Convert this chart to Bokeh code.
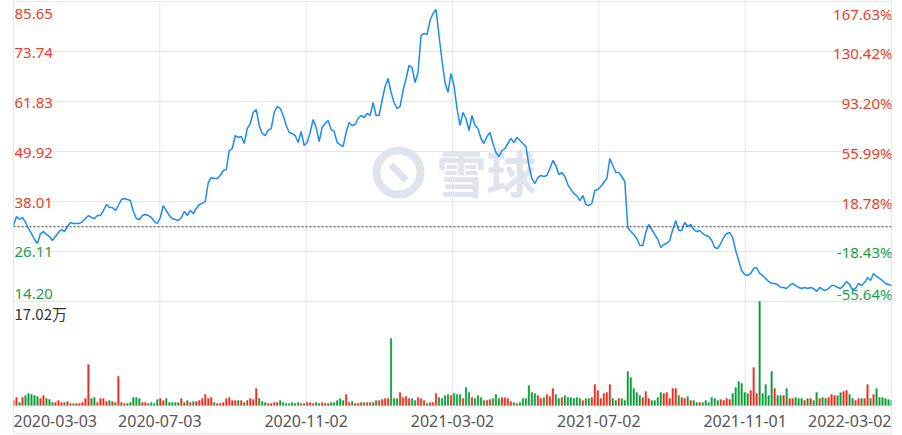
from bokeh.plotting import figure
from bokeh.models import Range1d, FixedTicker, ColumnDataSource, Span
from bokeh.core.properties import value
from bokeh.embed import file_html
from bokeh.resources import INLINE

# ---------------- data ----------------
price = [
    32.30, 34.44, 33.73, 34.21, 33.02, 31.59, 30.39, 28.97, 28.01, 30.39,
    30.87, 30.16, 29.68, 28.73, 29.68, 30.63, 31.35, 30.87, 32.06, 33.02,
    32.78, 32.78, 32.78, 33.25, 33.97, 34.68, 34.21, 33.97, 34.68, 34.68,
    35.87, 37.30, 36.59, 36.59, 35.87, 37.06, 38.49, 38.73, 38.49, 38.25,
    35.63, 33.97, 33.73, 34.68, 34.92, 34.68, 34.21, 33.25, 32.78, 34.21,
    37.06, 35.87, 34.68, 33.97, 33.73, 33.49, 34.21, 35.63, 34.68, 35.87,
    35.16, 36.35, 37.30, 37.54, 38.02, 42.54, 43.73, 43.49, 43.49, 44.21,
    45.40, 45.64, 50.16, 50.64, 53.73, 53.26, 53.50, 51.83, 55.40, 56.59,
    59.21, 59.93, 56.12, 54.21, 53.73, 54.93, 55.40, 59.21, 60.64, 60.17,
    58.50, 56.12, 54.45, 54.21, 53.73, 52.07, 54.69, 51.35, 52.07, 54.45,
    57.55, 55.64, 52.31, 55.64, 56.59, 57.31, 55.16, 54.69, 52.07, 51.59,
    51.12, 54.45, 56.83, 56.12, 56.36, 57.78, 58.50, 58.02, 58.98, 58.50,
    61.60, 58.50, 58.50, 62.07, 65.41, 67.31, 63.98, 61.60, 60.17, 60.64,
    64.45, 67.31, 70.41, 69.93, 66.36, 68.74, 77.55, 78.03, 77.79, 81.12,
    82.79, 83.74, 77.55, 71.60, 66.36, 63.98, 68.50, 65.64, 60.17, 56.12,
    59.21, 57.78, 54.93, 58.50, 56.12, 55.40, 53.02, 51.83, 53.50, 54.45,
    51.83, 49.69, 48.73, 50.16, 50.64, 51.83, 53.02, 52.07, 53.26, 52.54,
    51.83, 51.12, 46.59, 43.49, 42.30, 43.73, 44.21, 43.97, 44.21, 45.88,
    47.78, 46.59, 44.45, 44.92, 43.97, 42.06, 40.87, 39.92, 39.44, 38.25,
    39.44, 37.30, 37.06, 37.54, 40.64, 40.87, 41.59, 42.54, 43.49, 48.26,
    46.59, 44.92, 44.92, 43.97, 42.78, 31.82, 30.87, 30.16, 29.20, 27.54,
    27.54, 30.63, 32.54, 31.35, 30.16, 28.97, 27.06, 27.77, 28.01, 28.73,
    31.35, 33.49, 31.11, 31.11, 33.02, 32.06, 32.54, 31.35, 30.87, 31.11,
    30.39, 29.92, 29.68, 28.73, 27.06, 26.82, 28.01, 29.44, 30.39, 30.63,
    29.44, 26.35, 23.96, 21.58, 20.63, 20.39, 20.87, 22.06, 22.30, 20.87,
    20.39, 19.68, 18.96, 18.49, 18.49, 18.25, 17.54, 17.54, 17.30, 18.01,
    18.49, 18.01, 17.54, 17.30, 17.54, 17.30, 17.54, 17.30, 16.58, 17.54,
    17.06, 16.82, 17.30, 18.01, 18.01, 17.54, 17.30, 18.01, 18.96, 18.25,
    17.06, 17.30, 18.49, 18.01, 18.72, 19.91, 19.20, 20.87, 20.16, 19.68,
    19.20, 18.49, 18.25, 18.01,
]

# volume, in 万 (10k)
volume = [
    0.82, 1.31, 0.49, 1.31, 1.64, 1.96, 1.80, 1.64, 1.47, 1.15,
    1.64, 1.15, 0.98, 0.49, 0.49, 0.82, 0.49, 0.49, 0.65, 0.33,
    0.33, 0.33, 0.33, 0.49, 1.15, 6.71, 1.15, 1.31, 0.49, 1.15,
    1.15, 0.65, 0.82, 0.65, 0.49, 4.75, 0.49, 0.33, 0.33, 0.49,
    1.31, 1.31, 1.15, 0.49, 0.49, 0.33, 0.49, 0.33, 0.98, 1.15,
    0.82, 1.15, 0.49, 0.49, 0.49, 0.49, 1.15, 0.49, 0.82, 0.49,
    0.65, 0.65, 0.82, 1.15, 1.80, 1.15, 1.31, 0.49, 0.33, 0.33,
    0.49, 1.15, 1.31, 0.82, 0.82, 0.82, 0.82, 0.49, 0.82, 1.15,
    0.98, 2.78, 1.15, 0.65, 0.49, 0.33, 0.33, 0.49, 0.49, 0.82,
    0.49, 0.33, 0.33, 0.49, 0.33, 0.49, 0.33, 0.33, 0.49, 0.49,
    0.33, 0.49, 0.33, 0.49, 0.33, 0.33, 0.49, 0.49, 0.82, 1.15,
    0.82, 1.80, 0.49, 0.65, 0.33, 0.33, 0.49, 0.49, 0.49, 0.49,
    0.49, 0.82, 0.82, 0.98, 1.15, 1.15, 10.96, 1.15, 1.15, 2.13,
    1.31, 1.47, 1.15, 1.15, 0.82, 1.31, 1.15, 0.82, 0.33, 0.49,
    0.49, 1.96, 1.31, 1.15, 1.64, 1.80, 1.64, 1.96, 1.80, 1.80,
    1.15, 2.95, 2.13, 1.31, 1.15, 1.64, 1.31, 0.82, 0.82, 0.98,
    1.15, 1.80, 1.15, 1.31, 1.31, 1.15, 0.65, 0.49, 0.33, 0.49,
    1.15, 1.15, 3.27, 2.13, 1.96, 1.64, 1.15, 1.31, 1.80, 1.47,
    2.78, 1.80, 1.15, 1.31, 1.64, 1.31, 1.31, 1.15, 1.31, 1.15,
    0.82, 1.15, 1.15, 1.31, 3.44, 2.45, 1.15, 1.96, 2.13, 3.44,
    1.15, 0.82, 1.15, 1.15, 0.82, 5.56, 4.58, 2.78, 2.13, 1.64,
    1.31, 2.29, 1.15, 0.82, 0.82, 1.31, 2.13, 1.96, 2.13, 1.15,
    2.78, 2.78, 1.64, 1.31, 1.15, 1.47, 0.82, 0.82, 0.49, 0.49,
    0.49, 0.82, 0.49, 1.31, 1.15, 0.82, 0.98, 0.82, 1.15, 0.98,
    1.96, 2.95, 3.93, 3.60, 2.13, 1.96, 2.45, 6.22, 1.96, 17.02,
    1.96, 3.44, 1.64, 5.56, 2.78, 1.64, 1.64, 1.64, 2.78, 1.15,
    1.15, 1.31, 1.15, 1.15, 0.82, 1.15, 1.15, 0.82, 2.13, 1.15,
    1.31, 1.15, 1.31, 1.80, 1.64, 1.64, 2.13, 2.29, 2.45, 1.80,
    1.15, 0.82, 1.15, 1.15, 1.15, 3.44, 1.15, 1.80, 2.78, 1.31,
    1.31, 1.15, 0.98, 0.82,
]

base_price = 32.00
price_ticks = [85.65, 73.74, 61.83, 49.92, 38.01, 26.11, 14.20]
price_labels = ["85.65", "73.74", "61.83", "49.92", "38.01", "26.11", "14.20"]
pct_labels = ["167.63%", "130.42%", "93.20%", "55.99%", "18.78%", "-18.43%", "-55.64%"]
date_labels = ["2020-03-03", "2020-07-03", "2020-11-02", "2021-03-02",
               "2021-07-02", "2021-11-01", "2022-03-02"]
vol_max = 17.02
vol_label = "17.02万"

# ---------------- layout (pixels) ----------------
W, H = 902, 435
B_LEFT, B_RIGHT, B_TOP, B_BOTTOM = 13, 11, 1, 2
FRAME_W = W - B_LEFT - B_RIGHT
FRAME_H = H - B_TOP - B_BOTTOM           # 432
PRICE_BOT_PX = 300                       # px from frame top where lowest price tick sits
VOL_TOP_PX = 300                         # px where vol_max sits
VOL_BASE_PX = 404                        # px where volume 0 sits
XLAB_PX = 419                            # centre of date labels
VGRID_END_PX = 409

N = len(price)
idx = list(range(N))

p_hi, p_lo = price_ticks[0], price_ticks[-1]
pu = (p_hi - p_lo) / PRICE_BOT_PX
y_start = p_lo - (FRAME_H - PRICE_BOT_PX) * pu
vu = vol_max / (VOL_BASE_PX - VOL_TOP_PX)
v_start = -(FRAME_H - VOL_BASE_PX) * vu
v_end = vol_max + VOL_TOP_PX * vu


def vol_at_px(px):
    return (VOL_BASE_PX - px) * vu


def price_at_px(px):
    return p_hi - px * pu


def idx_at_px(px):
    return px * (N - 1) / FRAME_W


p = figure(width=W, height=H, x_range=Range1d(0, N - 1), y_range=Range1d(y_start, p_hi),
           output_backend="svg", toolbar_location=None,
           x_axis_location=None, y_axis_location=None,
           min_border_left=B_LEFT, min_border_right=B_RIGHT,
           min_border_top=B_TOP, min_border_bottom=B_BOTTOM,
           outline_line_color="#e4e6ec", background_fill_color="white",
           border_fill_color="white")
p.extra_y_ranges = {"vol": Range1d(v_start, v_end)}

p.xgrid.visible = False
p.ygrid.ticker = FixedTicker(ticks=price_ticks)
p.ygrid.grid_line_color = "#e6e6e9"
p.ygrid.grid_line_width = 1

# watermark
WM = "#dfe3eb"
p.text(x=[idx_at_px(473)], y=[price_at_px(169)], text=["雪球"], text_align="center",
       text_baseline="middle", text_color=WM, text_font=value("Noto Sans CJK SC"),
       text_font_size="50px", text_font_style="bold")
p.scatter(x=[idx_at_px(385)], y=[price_at_px(171)], marker="circle", size=44,
          fill_color=None, line_color=WM, line_width=8)
p.scatter(x=[idx_at_px(385)], y=[price_at_px(171)], marker="dash", size=22,
          angle=-0.8, line_color=WM, line_width=7)

# vertical grid lines
xt = [j * (N - 1) / 6 for j in range(7)]
p.segment(x0=xt, x1=xt, y0=[vol_at_px(VGRID_END_PX)] * 7, y1=[v_end] * 7,
          y_range_name="vol", line_color="#e4e6ec", line_width=1)

# volume bars
up = [True] + [price[i] >= price[i - 1] for i in range(1, N)]
RED, GREEN = "#f12a1c", "#0e9d3b"
bar_colors = [RED if u else GREEN for u in up]
vsrc = ColumnDataSource(dict(x=idx, top=volume, c=bar_colors))
p.vbar(x="x", top="top", bottom=0, width=0.55, fill_color="c", line_color="c",
       line_alpha=0.3, line_width=1, source=vsrc, y_range_name="vol")

# base line
p.add_layout(Span(location=base_price, dimension="width", line_color="#333333",
                  line_dash="2 2", line_width=1))

# price line
p.line(idx, price, line_color="#1b8cf2", line_width=1.5)

# price labels (left) and percent labels (right)
TXT_RED, TXT_GREEN = "#e8412b", "#1e9e48"
lab_colors = [TXT_RED if t > base_price else TXT_GREEN for t in price_ticks]
offs = [12] + [1] * 5 + [-8]
lsrc = ColumnDataSource(dict(x=[0] * 7, x2=[N - 1] * 7, y=price_ticks, t=price_labels,
                             t2=pct_labels, c=lab_colors, o=offs))
p.text(x="x", y="y", text="t", text_color="c", y_offset="o", x_offset=1,
       text_align="left", text_baseline="middle", text_font=value("Noto Sans"),
       text_font_size="15px", source=lsrc)
p.text(x="x2", y="y", text="t2", text_color="c", y_offset="o", x_offset=1,
       text_align="right", text_baseline="middle", text_font=value("Noto Sans"),
       text_font_size="15px", source=lsrc)

# volume max label
p.text(x=[0], y=[vol_max], text=[vol_label], x_offset=1, y_offset=12,
       text_align="left", text_baseline="middle", text_color="#333333",
       text_font=value("Noto Sans CJK SC"), text_font_size="15px", y_range_name="vol")

# date labels
aligns = ["left"] + ["center"] * 5 + ["right"]
dsrc = ColumnDataSource(dict(x=xt, y=[vol_at_px(XLAB_PX)] * 7, t=date_labels, a=aligns))
p.text(x="x", y="y", text="t", text_align="a", text_baseline="middle",
       text_color="#555555", text_font=value("Noto Sans"), text_font_size="16px",
       source=dsrc, y_range_name="vol")

open("out.html", "w").write(file_html(p, INLINE))
